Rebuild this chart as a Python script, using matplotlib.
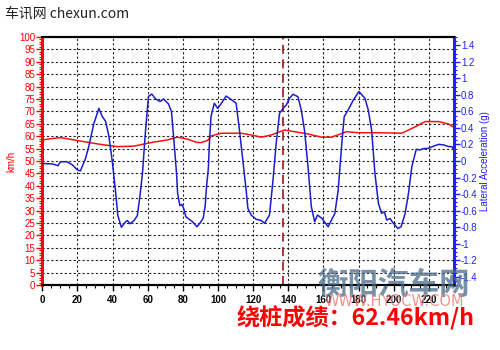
import matplotlib.pyplot as plt
from matplotlib.ticker import MultipleLocator, FuncFormatter

# speed trace (km/h) - left axis
speed_t = [0, 5, 10.3, 14, 23.6, 33.1, 42.7, 52.2, 61.7, 71.2, 77, 82.7, 88, 90.3,
           94.1, 96, 99.8, 101.7, 109.3, 113.1, 118.9, 124.6, 130.3, 137.9, 143.6,
           151.3, 158.9, 164.6, 173.1, 179.8, 191.3, 204.6, 212.2, 217.9, 225.5,
           231.3, 235]
speed_v = [58.5, 59, 59.4, 59, 57.8, 56.7, 55.8, 56, 57.4, 58.5, 59.6, 58.8, 57.5, 57.4,
           58.3, 60.1, 60.8, 61.2, 61.2, 61.2, 60.5, 59.6, 60.5, 62.5, 61.8,
           60.9, 59.6, 59.6, 61.8, 61.4, 61.4, 61.2, 63.8, 65.9, 65.9,
           64.9, 63.2]

# lateral acceleration (g) - right axis
lat_t = [0, 6, 9, 10.3, 14, 17, 20, 21.7, 24.6, 26.5, 29.3, 32.2, 34.1, 36, 37.9, 39.8,
         41.7, 43, 45, 47.4, 48.4, 49.9, 52.2, 54.1, 55.6, 57, 58.5, 60.4, 62.3, 64.5,
         67, 69, 71.8, 73.5, 74.7, 76.4, 77, 78.3, 79.4, 80.4, 81.7, 85.5, 88, 90.3,
         91.6, 92.7, 93.5, 94.5, 95, 96, 97.9, 99.8, 101.7, 104.6, 108.4, 110.3, 112.2,
         114.1, 116, 117, 118.9, 121.7, 124.6, 126.5, 129.3, 131.3, 133.1, 135, 137,
         138.9, 140.7, 142.7, 145.5, 147.4, 149.3, 151.3, 153.1, 155, 156.6, 158.9,
         162.7, 166.5, 168.4, 170.3, 171.8, 174.1, 177, 180.2, 183.6, 185.5, 187.4,
         189.3, 191.3, 193.1, 194.7, 196, 197.9, 199.8, 202.3, 204.2, 206.5, 208.4,
         210.3, 212.8, 215, 217, 219.8, 222.7, 225.5, 228.4, 231.3, 233.1, 234.7]
lat_g = [-0.03, -0.036, -0.057, -0.009, -0.009, -0.045, -0.108, -0.12, 0.03, 0.18, 0.45,
         0.636, 0.54, 0.48, 0.30, 0.0, -0.372, -0.66, -0.801, -0.735, -0.72, -0.759,
         -0.72, -0.66, -0.42, -0.15, 0.30, 0.78, 0.81, 0.75, 0.72, 0.75, 0.69, 0.60,
         0.30, -0.15, -0.39, -0.54, -0.525, -0.57, -0.675, -0.735, -0.795, -0.735,
         -0.69, -0.54, -0.30, -0.09, 0.174, 0.537, 0.699, 0.636, 0.69, 0.786, 0.729,
         0.699, 0.375, 0.012, -0.351, -0.573, -0.654, -0.705, -0.72, -0.753, -0.654,
         -0.231, 0.213, 0.576, 0.636, 0.678, 0.759, 0.807, 0.777, 0.615, 0.36, -0.09,
         -0.552, -0.735, -0.654, -0.69, -0.795, -0.633, -0.351, 0.174, 0.537, 0.618,
         0.738, 0.84, 0.759, 0.618, 0.375, -0.15, -0.513, -0.633, -0.615, -0.714,
         -0.696, -0.753, -0.816, -0.795, -0.633, -0.39, -0.069, 0.141, 0.135, 0.15,
         0.153, 0.18, 0.201, 0.195, 0.174, 0.174, 0.123]

marker_t = 137
result_text = "绕桩成绩：62.46km/h"

plt.rcParams['font.family'] = ['Liberation Sans', 'Noto Sans CJK SC', 'DejaVu Sans']

fig = plt.figure(figsize=(5, 3.5), dpi=100)
ax = fig.add_axes([0.0846, 0.1857, 0.8234, 0.7086])
ax2 = ax.twinx()

ax.set_xlim(0, 234.3)
ax.set_ylim(0, 100)
ax2.set_ylim(-1.5, 1.5)

ax.grid(True, which='major', color='#222222', linestyle=(0, (2, 2)), linewidth=0.8)
ax.axvline(marker_t, color='#a0282a', linestyle=(0, (5, 3)), linewidth=1.3, zorder=3)
ax.plot(speed_t, speed_v, color='#ff1010', linewidth=1.1, zorder=4)
ax2.plot(lat_t, lat_g, color='#1c1ccc', linewidth=1.1, zorder=4)

ax.xaxis.set_major_locator(MultipleLocator(20))
ax.xaxis.set_minor_locator(MultipleLocator(5))
ax.yaxis.set_major_locator(MultipleLocator(5))
ax.yaxis.set_minor_locator(MultipleLocator(1))
ax2.yaxis.set_major_locator(MultipleLocator(0.2))
ax2.yaxis.set_minor_locator(MultipleLocator(0.05))
ax2.yaxis.set_major_formatter(FuncFormatter(lambda v, p: '%g' % round(v, 2)))

ax.tick_params(axis='x', which='major', length=4, width=1, labelsize=7, pad=3)
ax.tick_params(axis='x', which='minor', length=2, width=0.8)
ax.tick_params(axis='y', which='major', length=4, width=1, colors='#ff0000', labelsize=7, pad=1)
ax.tick_params(axis='y', which='minor', length=2, width=0.8, colors='#ff0000')
ax2.tick_params(axis='y', which='major', length=4, width=1, colors='#2020ff', labelsize=7, pad=1)
ax2.tick_params(axis='y', which='minor', length=2, width=0.8, colors='#2020ff')
for lbl in ax.get_xticklabels():
    lbl.set_fontweight('bold')

for a in (ax, ax2):
    a.spines['left'].set_color('#ff0000')
    a.spines['left'].set_linewidth(2)
    a.spines['right'].set_color('#2020ff')
    a.spines['right'].set_linewidth(2)
    a.spines['bottom'].set_linewidth(1.5)
    a.spines['top'].set_linewidth(1.5)

ax.set_ylabel('km/h', color='#ff0000', fontsize=7, labelpad=2)
ax2.set_ylabel('Lateral Acceleration (g)', color='#2020ff', fontsize=7, labelpad=2)

fig.text(0.01, 0.96, '车讯网 chexun.com', fontsize=10, color='#222222',
         family=['Noto Sans CJK SC', 'DejaVu Sans'], va='center')

# watermark
fig.text(0.635, 0.185, '衡阳汽车网', fontsize=22, color='#4a6a8a', alpha=0.75,
         fontweight='bold', style='italic', family=['Noto Sans CJK SC'], va='center')
fig.text(0.65, 0.138, 'WWW.HYOCW.COM', fontsize=10.5, color='#f08080', alpha=0.85,
         family=['DejaVu Sans'], va='center')

fig.text(0.474, 0.09, result_text, fontsize=16.7, color='#ff0000', fontweight='bold',
         family=['Noto Sans CJK SC', 'DejaVu Sans'], va='center', zorder=5)

fig.savefig('out.png', dpi=100)
